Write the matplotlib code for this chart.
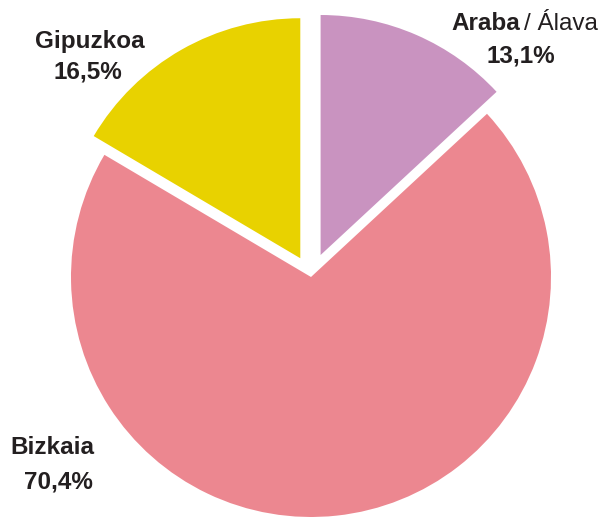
import matplotlib
matplotlib.use('Agg')
import matplotlib.pyplot as plt

regions = ['Araba / Álava', 'Bizkaia', 'Gipuzkoa']
shares = [13.1, 70.4, 16.5]
share_labels = ['13,1%', '70,4%', '16,5%']
colors = ['#C993C0', '#EC8790', '#E8D200']
explode = [0.1, 0.0, 0.09]

plt.rcParams['font.family'] = ['Liberation Sans', 'DejaVu Sans']

W, H = 603, 517
fig = plt.figure(figsize=(W / 100, H / 100), dpi=100)
ax = fig.add_axes([0, 0, 1, 1])

# pie centre and radius in pixels
cx, cy, r = 311, 277, 240
ax.pie(shares, colors=colors, startangle=90, counterclock=False,
       explode=explode, radius=1.0,
       wedgeprops=dict(linewidth=0))
ax.set_aspect('auto')
ax.set_xlim(-cx / r, (W - cx) / r)
ax.set_ylim(-(H - cy) / r, cy / r)
ax.axis('off')


def px(x, y):
    return x / W, 1 - y / H


fs = 17.5
col = '#231F20'
fig.text(*px(520, 30), 'Araba', ha='right', va='baseline', fontsize=fs,
         fontweight='bold', color=col)
fig.text(*px(524, 30), '/ Álava', ha='left', va='baseline', fontsize=fs,
         color=col)
fig.text(*px(521, 62), share_labels[0], ha='center', va='baseline',
         fontsize=fs, fontweight='bold', color=col)

fig.text(*px(90, 48), 'Gipuzkoa', ha='center', va='baseline', fontsize=fs,
         fontweight='bold', color=col)
fig.text(*px(88, 79), share_labels[2], ha='center', va='baseline',
         fontsize=fs, fontweight='bold', color=col)

fig.text(*px(52, 454), 'Bizkaia', ha='center', va='baseline', fontsize=fs,
         fontweight='bold', color=col)
fig.text(*px(58, 488), share_labels[1], ha='center', va='baseline',
         fontsize=fs, fontweight='bold', color=col)

fig.savefig('out.png', dpi=100)
